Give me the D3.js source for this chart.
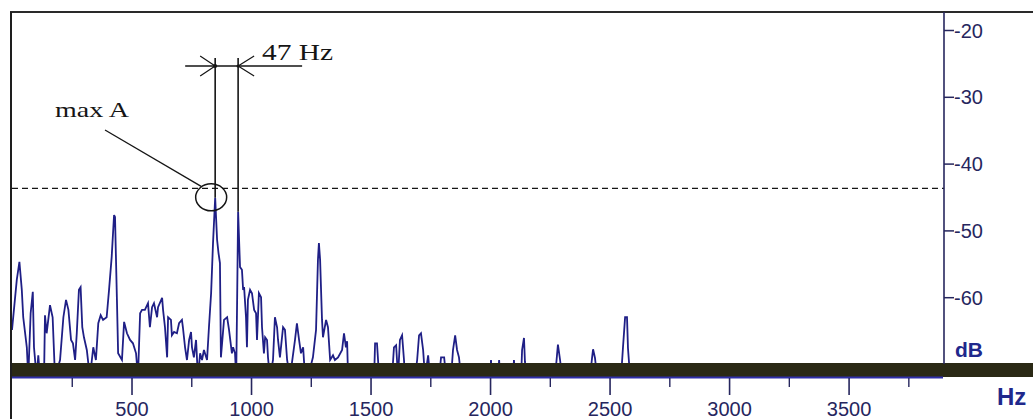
<!DOCTYPE html>
<html>
<head>
<meta charset="utf-8">
<script src="https://cdn.jsdelivr.net/npm/d3@7"></script>
<style>
  html, body { margin: 0; padding: 0; background: #ffffff; }
  svg { display: block; }
</style>
</head>
<body>
<svg id="chart" width="1033" height="419"></svg>
<script>
// Spectrum vertices: frequency (Hz) and level (dB)
const freqHz = [
  0, 20, 31, 41, 47, 62, 68, 78, 87, 92, 103, 110, 117, 134, 138, 145, 159, 170, 180, 201,
  215, 226, 236, 247, 255, 264, 271, 280, 287, 294, 301, 313, 326, 340, 351, 361, 371, 381, 396, 406,
  417, 427, 431, 439, 444, 460, 469, 481, 494, 506, 519, 527, 536, 544, 556, 569, 577, 586, 594, 607,
  611, 628, 632, 640, 649, 653, 665, 669, 678, 690, 699, 711, 715, 724, 732, 741, 749, 753, 761, 770,
  778, 787, 795, 803, 816, 824, 833, 841, 850, 858, 864, 870, 874, 887, 900, 908, 920, 925, 933, 938,
  942, 946, 954, 962, 967, 971, 979, 983, 987, 996, 1004, 1013, 1021, 1025, 1033, 1042, 1046, 1054, 1059, 1067,
  1071, 1079, 1092, 1100, 1109, 1113, 1121, 1134, 1142, 1151, 1163, 1184, 1192, 1201, 1209, 1218, 1226, 1238, 1259, 1272,
  1280, 1284, 1289, 1297, 1301, 1314, 1322, 1331, 1343, 1351, 1364, 1381, 1389, 1397, 1402, 1406,
  1515, 1519, 1527, 1536, 1590, 1598, 1607, 1615, 1623, 1632, 1640, 1644,
  1686, 1695, 1703, 1711, 1720, 1728, 1741, 1749, 1787, 1795, 1808, 1816,
  1837, 1845, 1854, 1862, 1870, 1879, 2000, 2004, 2008, 2033, 2038, 2042, 2096, 2100, 2105,
  2130, 2134, 2142, 2146, 2155, 2272, 2280, 2284, 2293, 2301, 2418, 2427, 2431, 2439, 2448,
  2548, 2556, 2565, 2573, 2577, 2586, 3895
];
const levelDb = [
  -64.9, -57.4, -54.7, -58.9, -63.0, -67.5, -72, -62.4, -59.2, -67.5, -72, -68.7, -72, -72, -62.7, -65.4, -61.2, -63.0, -72, -69.4,
  -63.0, -60.4, -61.9, -66.4, -66.9, -69.4, -65.4, -58.9, -58.5, -64.5, -66.0, -67.9, -72, -67.5, -69.4, -63.9, -62.7, -63.4, -63.0, -58.9,
  -54.0, -47.7, -48.0, -60.4, -68.4, -69.4, -63.7, -65.4, -66.4, -66.9, -68.4, -72, -62.4, -61.9, -61.9, -60.9, -64.5, -61.5, -60.9, -63.0,
  -61.5, -60.1, -61.9, -64.5, -69.0, -63.0, -63.4, -65.7, -65.2, -65.4, -63.9, -63.4, -64.5, -67.5, -69.4, -66.4, -65.2, -67.5, -69.0, -66.4,
  -72, -68.4, -69.4, -67.9, -69.4, -64.5, -59.4, -51.9, -45.1, -51.4, -53.4, -54.9, -69.0, -63.4, -63.0, -64.9, -68.4, -67.5, -68.4, -72,
  -60.0, -47.2, -55.5, -55.9, -58.9, -58.5, -63.0, -67.5, -60.4, -58.9, -59.4, -61.9, -62.4, -66.4, -59.4, -60.0, -64.5, -68.4, -66.0, -66.4,
  -69.0, -72, -69.4, -63.0, -64.5, -66.4, -69.0, -64.5, -64.9, -69.4, -72, -66.4, -63.9, -66.4, -68.4, -67.5, -72, -72, -69.0, -64.9,
  -54.4, -51.9, -54.4, -63.4, -66.0, -63.4, -64.5, -69.4, -68.7, -69.4, -69.0, -67.9, -65.4, -67.5, -66.6, -72,
  -72, -66.9, -66.9, -72, -72, -67.5, -67.2, -72, -66.4, -65.7, -69.4, -72,
  -72, -69.4, -65.7, -65.4, -67.9, -72, -68.7, -72, -72, -69.0, -69.0, -72,
  -72, -67.9, -65.7, -67.9, -69.0, -72, -72, -69.4, -72, -72, -69.4, -72, -72, -69.4, -72,
  -72, -67.9, -66.1, -69.7, -72, -72, -68.7, -67.1, -69.4, -72, -72, -69.0, -67.8, -69.1, -72,
  -72, -67.6, -63.0, -63.0, -67.6, -72, -72
];

// Axis ticks
const xMajorTicks = [500, 1000, 1500, 2000, 2500, 3000, 3500];
const xMinorTicks = [250, 750, 1250, 1750, 2250, 2750, 3250, 3750];
const yTicks = [-20, -30, -40, -50, -60];

// Reference level (dashed) and the two annotated peaks
const refLevelDb = -43.7;
const peakA = { hz: 850, db: -45.1 };
const peakB = { hz: 946, db: -47.2 };
const spacingLabel = "47 Hz";
const maxLabel = "max A";

const svg = d3.select("#chart");
const W = 1033, H = 419;

const x = d3.scaleLinear().domain([0, 3895]).range([12, 943]);
const y = d3.scaleLinear().domain([-70, -20]).range([364, 30]);

const navy = "#26265e";
const ink = "#151515";

// plot clip so that the spectrum stays inside the frame
svg.append("defs").append("clipPath").attr("id", "plotClip")
  .append("rect").attr("x", 12).attr("y", 13).attr("width", 931).attr("height", 352);

// dashed reference level
svg.append("line")
  .attr("x1", 12).attr("x2", x.range()[1] + 1)
  .attr("y1", y(refLevelDb)).attr("y2", y(refLevelDb))
  .attr("stroke", ink).attr("stroke-width", 1.3)
  .attr("stroke-dasharray", "6,4");

// spectrum trace
const pts = freqHz.map((f, i) => [f, levelDb[i]]);
svg.append("path")
  .datum(pts)
  .attr("clip-path", "url(#plotClip)")
  .attr("fill", "none")
  .attr("stroke", "#1f1f86")
  .attr("stroke-width", 1.8)
  .attr("stroke-linejoin", "miter")
  .attr("d", d3.line().x(d => x(d[0])).y(d => y(d[1])));

// dark base band below the -70 dB floor
svg.append("rect")
  .attr("x", 10).attr("y", y(-70) - 1)
  .attr("width", W - 10).attr("height", 14)
  .attr("fill", "#2a2915");
svg.append("line")
  .attr("x1", 10).attr("x2", x.range()[1])
  .attr("y1", 377.5).attr("y2", 377.5)
  .attr("stroke", "#2e2ea8").attr("stroke-width", 2);

// frame: top and left borders
svg.append("line").attr("x1", 10).attr("x2", W).attr("y1", 12).attr("y2", 12)
  .attr("stroke", "#2a2a2a").attr("stroke-width", 2);
svg.append("line").attr("x1", 11).attr("x2", 11).attr("y1", 12).attr("y2", H)
  .attr("stroke", "#1e1e1e").attr("stroke-width", 2);

// right dB axis
svg.append("line").attr("x1", 944).attr("x2", 944).attr("y1", 12).attr("y2", 364)
  .attr("stroke", navy).attr("stroke-width", 1.6);
const yAxis = d3.axisRight(y).tickValues(yTicks).tickSize(10).tickPadding(0)
  .tickFormat(d => "-" + Math.abs(d));
const yg = svg.append("g").attr("transform", "translate(944,0)").call(yAxis);
yg.select(".domain").remove();
yg.selectAll(".tick line").attr("stroke", navy).attr("stroke-width", 1.5);
yg.selectAll(".tick text")
  .attr("fill", navy)
  .attr("font-family", "'Liberation Sans', Arial, sans-serif")
  .attr("font-size", 20)
  .attr("dy", "0.35em");

// bottom Hz axis: major labelled ticks and minor ticks
const axisY = 378;
const xAxisMajor = d3.axisBottom(x).tickValues(xMajorTicks).tickSize(17).tickPadding(8)
  .tickFormat(d3.format("d"));
const xg = svg.append("g").attr("transform", `translate(0,${axisY})`).call(xAxisMajor);
xg.select(".domain").remove();
xg.selectAll(".tick line").attr("stroke", navy).attr("stroke-width", 1.6);
xg.selectAll(".tick text")
  .attr("fill", navy)
  .attr("font-family", "'Liberation Sans', Arial, sans-serif")
  .attr("font-size", 20)
  .attr("y", 24).attr("dy", "0.71em");

const xAxisMinor = d3.axisBottom(x).tickValues(xMinorTicks).tickSize(9).tickFormat("");
const xm = svg.append("g").attr("transform", `translate(0,${axisY})`).call(xAxisMinor);
xm.select(".domain").remove();
xm.selectAll(".tick line").attr("stroke", navy).attr("stroke-width", 1.4);

// unit labels
svg.append("text").attr("x", 955).attr("y", 357)
  .attr("font-family", "'Liberation Sans', Arial, sans-serif")
  .attr("font-weight", "bold").attr("font-size", 21)
  .attr("fill", "#20288c").text("dB");
svg.append("text").attr("x", 997).attr("y", 405)
  .attr("font-family", "'Liberation Sans', Arial, sans-serif")
  .attr("font-weight", "bold").attr("font-size", 24)
  .attr("fill", "#20288c").text("Hz");

// peak spacing dimension
const ann = svg.append("g").attr("stroke", ink).attr("fill", "none");
const dimY = 66, topY = 58;
const xa = x(peakA.hz), xb = x(peakB.hz);
ann.append("line").attr("x1", xa).attr("x2", xa).attr("y1", topY).attr("y2", y(peakA.db)).attr("stroke-width", 1.6);
ann.append("line").attr("x1", xb).attr("x2", xb).attr("y1", topY).attr("y2", y(peakB.db)).attr("stroke-width", 1.6);
ann.append("line").attr("x1", xa - 30).attr("x2", xb + 64).attr("y1", dimY).attr("y2", dimY).attr("stroke-width", 1.4);
ann.append("path").attr("d", `M${xa - 15},${dimY - 10} L${xa},${dimY} L${xa - 15},${dimY + 10}`).attr("stroke-width", 1.2);
ann.append("path").attr("d", `M${xb + 16},${dimY - 10} L${xb},${dimY} L${xb + 16},${dimY + 10}`).attr("stroke-width", 1.2);
svg.append("circle").attr("cx", xa).attr("cy", dimY).attr("r", 2).attr("fill", ink);
svg.append("circle").attr("cx", xb).attr("cy", dimY).attr("r", 1.6).attr("fill", ink);

svg.append("text").attr("x", 262).attr("y", 60)
  .attr("font-family", "'Liberation Serif', 'Times New Roman', serif")
  .attr("font-size", 24).attr("fill", ink)
  .attr("textLength", 71).attr("lengthAdjust", "spacingAndGlyphs")
  .text(spacingLabel);

// max amplitude marker
const cx = xa - 4, cy = y(refLevelDb) + 9;
ann.append("ellipse").attr("cx", cx).attr("cy", cy).attr("rx", 15.5).attr("ry", 13.5).attr("stroke-width", 1.5);
ann.append("line").attr("x1", 105).attr("y1", 130).attr("x2", cx - 10).attr("y2", cy - 11).attr("stroke-width", 1.3);
svg.append("text").attr("x", 55).attr("y", 117)
  .attr("font-family", "'Liberation Serif', 'Times New Roman', serif")
  .attr("font-size", 21).attr("fill", ink)
  .attr("textLength", 74).attr("lengthAdjust", "spacingAndGlyphs")
  .text(maxLabel);
</script>
</body>
</html>
